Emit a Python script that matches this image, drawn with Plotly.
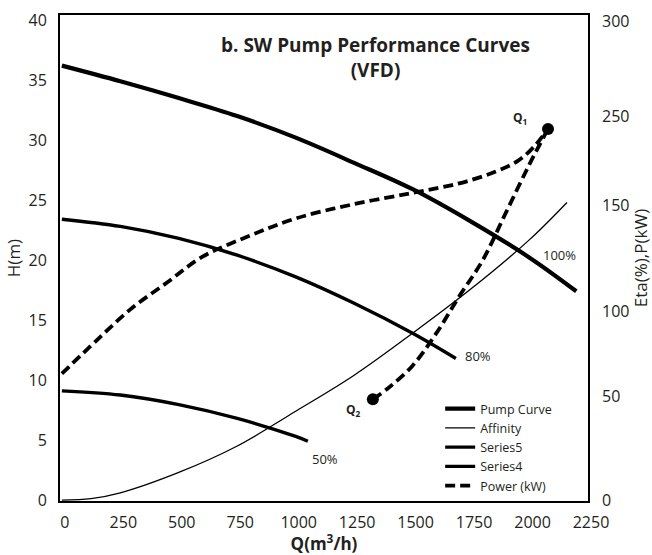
import plotly.graph_objects as go

# ---- data ----
q_100 = [0, 250, 500, 750, 1000, 1250, 1500, 1750, 2000, 2200]
h_100 = [36.2, 34.9, 33.5, 32.0, 30.2, 28.1, 25.9, 23.2, 20.2, 17.4]

q_80 = [0, 250, 500, 750, 1000, 1250, 1500, 1685]
h_80 = [23.4, 22.8, 21.8, 20.4, 18.6, 16.4, 13.9, 11.8]

q_50 = [0, 250, 500, 750, 1000, 1052]
h_50 = [9.1, 8.75, 7.95, 6.8, 5.3, 4.9]

q_aff = [0, 125, 250, 500, 750, 1000, 1250, 1500, 1750, 2000, 2160]
h_aff = [0, 0.12, 0.6, 2.3, 4.5, 7.4, 10.4, 13.9, 17.6, 21.7, 24.8]

q_pow = [0, 150, 300, 450, 600, 800, 1000, 1250, 1500, 1700, 1850, 1950, 2020, 2079]
p_pow = [79, 100, 120, 136, 152, 165, 176, 185, 192, 198, 205, 212, 221, 232]

q_vfd = [1330, 1400, 1500, 1600, 1700, 1800, 1900, 2000, 2079]
p_vfd = [63, 70.5, 84, 104, 127.5, 150, 180, 210, 232]

q_pts = [2079, 1330]
p_pts = [232, 63]
pt_names = ["Q<sub>1</sub>", "Q<sub>2</sub>"]

x_ticks = [0, 250, 500, 750, 1000, 1250, 1500, 1750, 2000, 2250]
y_ticks = [0, 5, 10, 15, 20, 25, 30, 35, 40]
y2_tick_pos = [0, 65, 118, 184, 240, 299]
y2_tick_text = ["0", "50", "100", "150", "250", "300"]

speed_labels = ["100%", "80%", "50%"]
speed_label_q = [2130, 1781, 1125]
speed_label_h = [20.4, 12.0, 3.4]

FONT = "Open Sans"
TXT = "#231f20"

fig = go.Figure()
fig.add_trace(go.Scatter(x=q_100, y=h_100, mode="lines", name="Pump Curve",
                         line=dict(color="black", width=4.2, shape="spline")))
fig.add_trace(go.Scatter(x=q_aff, y=h_aff, mode="lines", name="Affinity",
                         line=dict(color="black", width=1.3, shape="spline")))
fig.add_trace(go.Scatter(x=q_80, y=h_80, mode="lines", name="Series5",
                         line=dict(color="black", width=3.4, shape="spline")))
fig.add_trace(go.Scatter(x=q_50, y=h_50, mode="lines", name="Series4",
                         line=dict(color="black", width=3.4, shape="spline")))
fig.add_trace(go.Scatter(x=q_pow, y=p_pow, mode="lines", name="Power (kW)", yaxis="y2",
                         line=dict(color="black", width=3.8, dash="10px,5px", shape="spline")))
fig.add_trace(go.Scatter(x=q_vfd, y=p_vfd, mode="lines", showlegend=False, yaxis="y2",
                         line=dict(color="black", width=3.8, dash="10px,5px", shape="spline")))
fig.add_trace(go.Scatter(x=q_pts, y=p_pts, mode="markers", showlegend=False, yaxis="y2",
                         marker=dict(color="black", size=12)))

for t, qx, hy in zip(speed_labels, speed_label_q, speed_label_h):
    fig.add_annotation(x=qx, y=hy, text=t, showarrow=False,
                       font=dict(family=FONT, size=13, color=TXT))

fig.add_annotation(x=1959, y=31.8, text="<b>" + pt_names[0] + "</b>", showarrow=False,
                   font=dict(family=FONT, size=12, color=TXT))
fig.add_annotation(x=1245, y=7.5, text="<b>" + pt_names[1] + "</b>", showarrow=False,
                   font=dict(family=FONT, size=12, color=TXT))

fig.add_annotation(xref="paper", yref="paper", x=0.598, y=0.9126, yanchor="middle",
                   text="<b>b. SW Pump Performance Curves<br>(VFD)</b>",
                   showarrow=False, align="center",
                   font=dict(family=FONT, size=19, color=TXT))

axis_common = dict(showgrid=False, zeroline=False, ticks="", automargin=False,
                   tickfont=dict(family=FONT, size=16, color=TXT))

fig.update_layout(
    width=652, height=555,
    margin=dict(l=60, r=64, t=15, b=54),
    paper_bgcolor="white", plot_bgcolor="white",
    font=dict(family=FONT, color=TXT),
    xaxis=dict(range=[-8, 2250], tickvals=x_ticks, showline=True, linecolor="black",
               linewidth=2, mirror=True, ticklabelstandoff=6, ticklabelshift=3,
               title=dict(text="<b>Q(m<sup>3</sup>/h)</b>", standoff=0,
                          font=dict(family=FONT, size=17, color=TXT)),
               **axis_common),
    yaxis=dict(range=[-0.08, 40.42], tickvals=y_ticks, showline=True, linecolor="black",
               linewidth=2, mirror=True, ticklabelstandoff=8,
               title=dict(text="H(m)", standoff=4, font=dict(family=FONT, size=17, color=TXT)),
               **axis_common),
    yaxis2=dict(range=[-0.6, 303.2], overlaying="y", side="right", showline=False,
                tickvals=y2_tick_pos, ticktext=y2_tick_text, ticklabelstandoff=13,
                title=dict(text="Eta(%),P(kW)", standoff=6,
                           font=dict(family=FONT, size=17, color=TXT)),
                **axis_common),
    legend=dict(x=0.72, y=0.0, xanchor="left", yanchor="bottom", bgcolor="rgba(0,0,0,0)",
                font=dict(family=FONT, size=12.5, color=TXT), tracegroupgap=0),
    showlegend=True,
)

fig.write_html("out.html", config={"displayModeBar": False},
               post_script="document.body.style.margin='0';")
